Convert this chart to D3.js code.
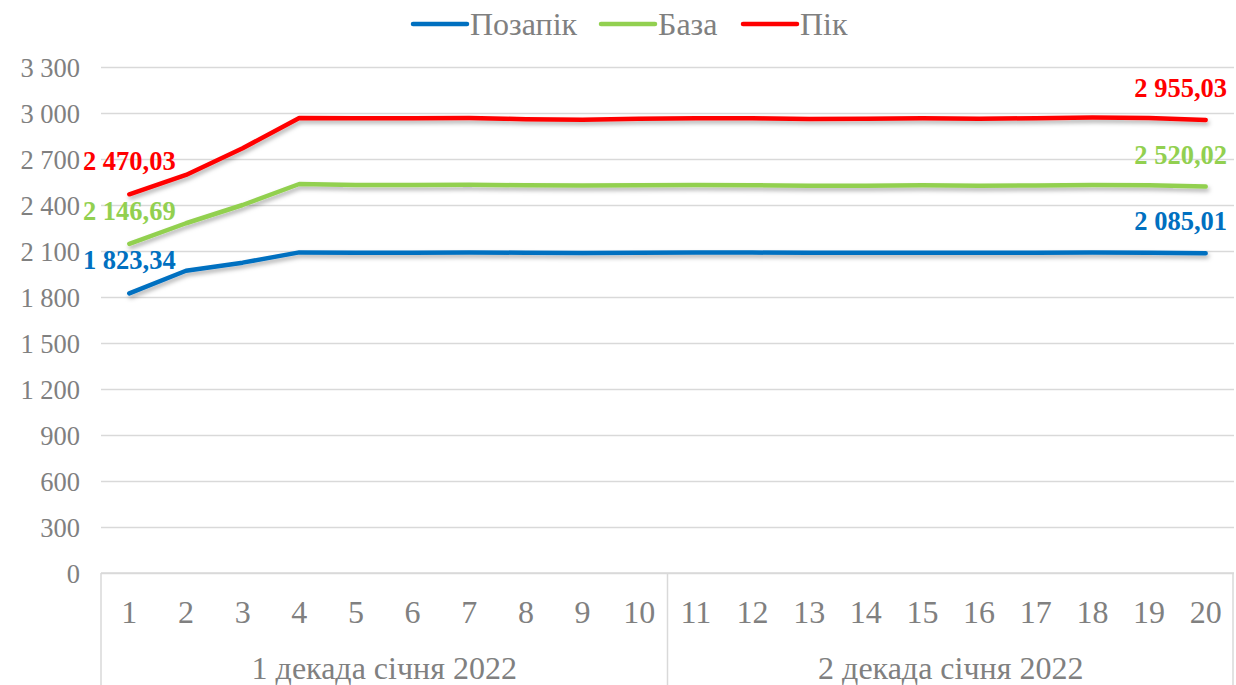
<!DOCTYPE html>
<meta charset="utf-8">
<head>
    <title>Позапік / База / Пік</title>
    <script src="https://cdn.jsdelivr.net/npm/d3@7"></script>
    <style>
        body { margin: 0; background: #fff; }
        text { font-family: "Liberation Serif", "Times New Roman", serif; }
        .y-axis .tick text { fill: #808080; font-size: 26.5px; }
        .x-axis .tick text { fill: #808080; font-size: 32px; }
    </style>
</head>
<body>
<div id="chart"></div>
<script>
    // data
    var days = d3.range(1, 21);
    var groups = ["1 декада січня 2022", "2 декада січня 2022"];
    var offpeak = [1823.34, 1971, 2024, 2091, 2089, 2089, 2090, 2089, 2087, 2088,
                   2090, 2090, 2088, 2088, 2089, 2088, 2089, 2091, 2089, 2085.01];
    var base = [2146.69, 2281, 2400, 2537, 2530, 2530, 2532, 2529, 2527, 2528,
                2530, 2529, 2526, 2526, 2528, 2526, 2527, 2530, 2528, 2520.02];
    var peak = [2470.03, 2596, 2770, 2968, 2966, 2966, 2967, 2960, 2956, 2962,
                2966, 2966, 2961, 2962, 2965, 2962, 2966, 2971, 2968, 2955.03];
    var yTicks = d3.range(0, 3301, 300);

    var series = [
        { name: "Позапік", values: offpeak, color: "#0070c0" },
        { name: "База", values: base, color: "#92d050" },
        { name: "Пік", values: peak, color: "#ff0000" }
    ];

    var width = 1236, height = 685;
    var margin = { top: 67, right: 2, bottom: 112, left: 101 };

    var loc = d3.formatLocale({ decimal: ",", thousands: " ", grouping: [3], currency: ["", ""] });
    var fmtTick = loc.format(",d");
    var fmtLabel = loc.format(",.2f");

    var svg = d3.select("#chart").append("svg")
        .attr("width", width)
        .attr("height", height);

    // soft shadow under the lines
    var defs = svg.append("defs");
    defs.append("filter")
        .attr("id", "shadow")
        .attr("x", "-5%").attr("y", "-50%").attr("width", "110%").attr("height", "200%")
        .append("feDropShadow")
        .attr("dx", 1.5).attr("dy", 3)
        .attr("stdDeviation", 2)
        .attr("flood-color", "#000")
        .attr("flood-opacity", 0.3);

    var x = d3.scaleBand()
        .domain(days)
        .range([margin.left, width - margin.right]);

    var y = d3.scaleLinear()
        .domain([0, 3300])
        .range([height - margin.bottom, margin.top]);

    // gridlines + y labels
    var yAxis = svg.append("g")
        .attr("class", "y-axis")
        .attr("transform", "translate(" + margin.left + ",0)")
        .call(d3.axisLeft(y)
            .tickValues(yTicks)
            .tickFormat(fmtTick)
            .tickSize(-(width - margin.right - margin.left))
            .tickPadding(21));
    yAxis.select(".domain").remove();
    yAxis.selectAll(".tick line")
        .attr("stroke", "#d9d9d9")
        .attr("stroke-width", 1.5);
    yAxis.selectAll(".tick text").attr("dy", "0.34em");

    // day labels
    var xAxis = svg.append("g")
        .attr("class", "x-axis")
        .attr("transform", "translate(0," + y(0) + ")")
        .call(d3.axisBottom(x).tickSize(0));
    xAxis.select(".domain").remove();
    xAxis.selectAll(".tick text").attr("dy", "0.34em").attr("y", 39);

    // axis line and group separators
    svg.append("line")
        .attr("x1", margin.left).attr("x2", width - margin.right)
        .attr("y1", y(0)).attr("y2", y(0))
        .attr("stroke", "#d9d9d9").attr("stroke-width", 1.5);

    var edges = [days[0], days[10], null];
    edges.forEach(function (d) {
        var xe = d === null ? x.range()[1] - 1 : x(d);
        svg.append("line")
            .attr("x1", xe).attr("x2", xe)
            .attr("y1", y(0)).attr("y2", height)
            .attr("stroke", "#d9d9d9").attr("stroke-width", 1.5);
    });

    svg.selectAll(".group-label")
        .data(groups)
        .enter()
        .append("text")
        .attr("class", "group-label")
        .attr("x", function (d, i) { return x(days[i * 10]) + x.bandwidth() * 5; })
        .attr("y", 668)
        .attr("dy", "0.34em")
        .attr("text-anchor", "middle")
        .attr("fill", "#808080")
        .style("font-size", "32px")
        .text(function (d) { return d; });

    // lines
    var line = d3.line()
        .x(function (d, i) { return x(days[i]) + x.bandwidth() / 2; })
        .y(function (d) { return y(d); });

    svg.selectAll(".series")
        .data(series)
        .enter()
        .append("path")
        .attr("class", "series")
        .attr("d", function (s) { return line(s.values); })
        .attr("fill", "none")
        .attr("stroke", function (s) { return s.color; })
        .attr("stroke-width", 4.5)
        .attr("stroke-linecap", "round")
        .attr("stroke-linejoin", "round")
        .attr("filter", "url(#shadow)");

    // first / last value labels
    series.forEach(function (s) {
        var n = s.values.length;
        svg.append("text")
            .attr("x", x(days[0]) + x.bandwidth() / 2)
            .attr("y", y(s.values[0]) - 33)
            .attr("dy", "0.34em")
            .attr("text-anchor", "middle")
            .attr("fill", s.color)
            .style("font-size", "26.5px")
            .style("font-weight", "bold")
            .text(fmtLabel(s.values[0]));
        svg.append("text")
            .attr("x", 1227)
            .attr("y", y(s.values[n - 1]) - 32)
            .attr("dy", "0.34em")
            .attr("text-anchor", "end")
            .attr("fill", s.color)
            .style("font-size", "26.5px")
            .style("font-weight", "bold")
            .text(fmtLabel(s.values[n - 1]));
    });

    // legend
    var legendPos = [413, 601, 743];
    var legend = svg.selectAll(".legend")
        .data(series)
        .enter()
        .append("g")
        .attr("class", "legend")
        .attr("transform", function (d, i) { return "translate(" + legendPos[i] + ",24)"; });
    legend.append("line")
        .attr("x1", 0).attr("x2", 54)
        .attr("stroke", function (d) { return d.color; })
        .attr("stroke-width", 4.5)
        .attr("stroke-linecap", "round");
    legend.append("text")
        .attr("x", 57)
        .attr("dy", "0.34em")
        .attr("fill", "#808080")
        .style("font-size", "32px")
        .text(function (d) { return d.name; });
</script>
</body>
